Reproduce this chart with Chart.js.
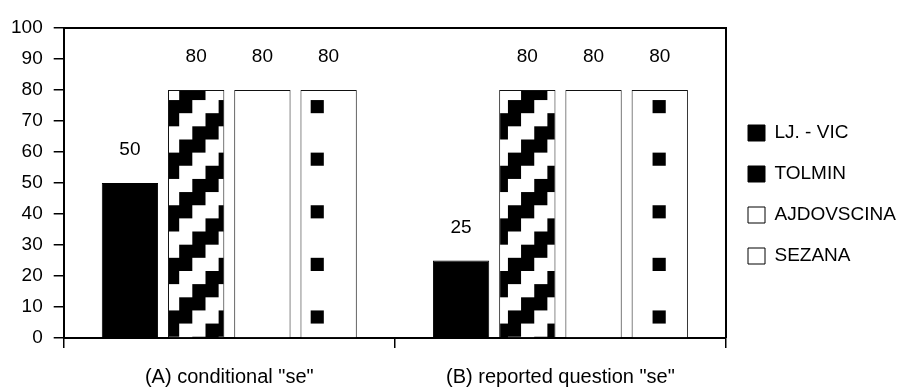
<!DOCTYPE html>
<html>
<head>
<meta charset="utf-8">
<script src="https://cdn.jsdelivr.net/npm/chart.js@4"></script>
<style>
  html, body { margin: 0; padding: 0; background: #fff; }
  #wrap { width: 902px; height: 389px; }
</style>
</head>
<body>
<div id="wrap"><canvas id="barChart"></canvas></div>
<script>
// data
const categories = ['(A) conditional "se"', '(B) reported question "se"'];
const seriesNames = ['LJ. - VIC', 'TOLMIN', 'AJDOVSCINA', 'SEZANA'];
const ljVic = [50, 25];
const tolmin = [80, 80];
const ajdovscina = [80, 80];
const sezana = [80, 80];
const yTickValues = [0, 10, 20, 30, 40, 50, 60, 70, 80, 90, 100];

const FONT = '"Liberation Sans", Arial, sans-serif';
Chart.defaults.font.family = FONT;
Chart.defaults.color = '#000';

// 4x4 cell fill patterns (staircase and sparse dots)
const CELL = 13.15;
function makePattern(cellOn, ox, oy) {
    const tile = document.createElement('canvas');
    tile.width = 52;
    tile.height = 52;
    const t = tile.getContext('2d');
    t.fillStyle = '#fff';
    t.fillRect(0, 0, 52, 52);
    t.fillStyle = '#000';
    for (let r = 0; r < 4; r++) {
        for (let c = 0; c < 4; c++) {
            if (cellOn(c, r)) t.fillRect(c * 13, r * 13, 13, 13);
        }
    }
    const p = t.createPattern(tile, 'repeat');
    p.setTransform(new DOMMatrix().translate(ox, oy).scale(CELL / 13));
    return p;
}
const stairs = (c, r) => (c + r) % 4 === 0 || (c + r) % 4 === 3;
const dots = (c, r) => c === 3 && r === 3;
const tolminFill = [makePattern(stairs, 8.2, 7.95), makePattern(stairs, 8.2 + 2 * CELL, 7.95)];
const sezanaFill = [makePattern(dots, 8.2, 7.95), makePattern(dots, 8.2 + 2 * CELL, 7.95)];

// box line on top and right of the plot area
const frameLines = {
    id: 'frameLines',
    afterDraw(chart) {
        const { ctx, chartArea: a } = chart;
        const top = Math.round(a.top);
        const right = Math.round(a.right);
        ctx.save();
        ctx.strokeStyle = '#000';
        ctx.lineWidth = 2;
        ctx.beginPath();
        ctx.moveTo(a.left, top);
        ctx.lineTo(right, top);
        ctx.lineTo(right, a.bottom);
        ctx.stroke();
        ctx.restore();
    }
};

// value written above each bar
const valueLabels = {
    id: 'valueLabels',
    afterDatasetsDraw(chart) {
        const ctx = chart.ctx;
        ctx.save();
        ctx.font = '19px ' + FONT;
        ctx.fillStyle = '#000';
        ctx.textAlign = 'center';
        ctx.textBaseline = 'middle';
        chart.data.datasets.forEach((ds, i) => {
            chart.getDatasetMeta(i).data.forEach((bar, j) => {
                ctx.fillText(ds.data[j], bar.x, bar.y - 33);
            });
        });
        ctx.restore();
    }
};

const ctx = document.getElementById('barChart').getContext('2d');
const chart = new Chart(ctx, {
    type: 'bar',
    data: {
        labels: categories,
        datasets: [
            { label: seriesNames[0], data: ljVic, backgroundColor: '#000', borderColor: '#000', borderWidth: 1 },
            { label: seriesNames[1], data: tolmin, backgroundColor: tolminFill, borderColor: '#111', borderWidth: 1 },
            { label: seriesNames[2], data: ajdovscina, backgroundColor: '#fff', borderColor: '#111', borderWidth: 1 },
            { label: seriesNames[3], data: sezana, backgroundColor: sezanaFill, borderColor: '#111', borderWidth: 1 }
        ]
    },
    options: {
        responsive: true,
        maintainAspectRatio: false,
        animation: false,
        events: [],
        categoryPercentage: 0.8,
        barPercentage: 0.85,
        layout: { padding: { left: 0, right: 0, top: -17, bottom: -17 } },
        plugins: {
            title: {
                display: true,
                text: '',
                font: { size: 10, lineHeight: 1 },
                padding: { top: 35, bottom: 0 }
            },
            tooltip: { enabled: false },
            legend: {
                position: 'right',
                maxWidth: 176,
                labels: {
                    boxWidth: 17,
                    boxHeight: 16,
                    padding: 22,
                    font: { size: 19 },
                    generateLabels(chart) {
                        const fills = ['#000', '#000', '#fff', '#fff'];
                        return chart.data.datasets.map((ds, i) => ({
                            text: ds.label,
                            fillStyle: fills[i],
                            strokeStyle: '#000',
                            lineWidth: 1,
                            fontColor: '#000',
                            hidden: false,
                            datasetIndex: i
                        }));
                    }
                }
            }
        },
        scales: {
            x: {
                grid: {
                    offset: true,
                    drawOnChartArea: false,
                    tickLength: 10,
                    lineWidth: 1.5,
                    color: '#000'
                },
                border: { color: '#000', width: 2 },
                ticks: { font: { size: 20 }, padding: 17, maxRotation: 0, autoSkip: false }
            },
            y: {
                min: 0,
                max: 100,
                afterBuildTicks(scale) {
                    scale.ticks = yTickValues.map(v => ({ value: v }));
                },
                grid: {
                    drawOnChartArea: false,
                    tickLength: 10,
                    lineWidth: 1.5,
                    color: '#000'
                },
                border: { color: '#000', width: 2 },
                ticks: { font: { size: 19 }, padding: 11, autoSkip: false }
            }
        }
    },
    plugins: [frameLines, valueLabels]
});
</script>
</body>
</html>
